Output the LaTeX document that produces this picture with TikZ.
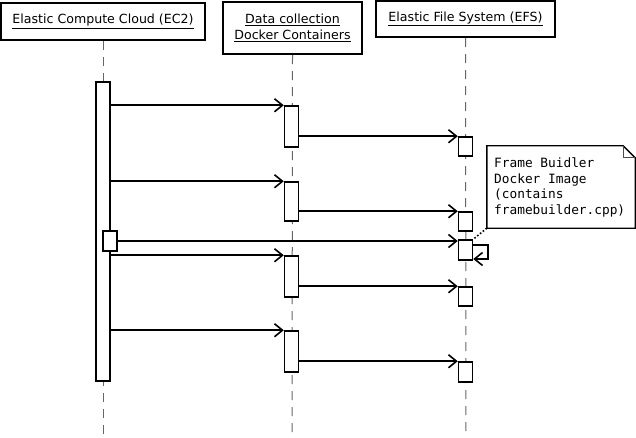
\documentclass[tikz,border=0pt]{standalone}
\usepackage{fontspec}
\setmainfont{DejaVu Sans}
\newfontfamily\notefont{DejaVu Sans Mono}
\usetikzlibrary{arrows.meta}
\begin{document}
\begin{tikzpicture}[x=1pt,y=-1pt,
  head/.style={draw,line width=2.2pt,fill=white,inner sep=0pt,align=center,
    font=\fontsize{12.6}{16}\selectfont},
  act/.style={draw,line width=1.5pt,fill=white,inner sep=0pt,minimum width=14pt},
  life/.style={draw=black!60,line width=1pt,dash pattern=on 9pt off 7pt},
  msg/.style={draw,line width=1.6pt,-{Straight Barb[length=8pt,width=13pt,line width=1.6pt]}},
  notebox/.style={inner sep=0pt,minimum width=148pt,minimum height=82pt},
  notetext/.style={font=\notefont\fontsize{12.8}{15.5}\selectfont,align=left,anchor=north west,inner sep=0pt}]
\useasboundingbox (0,0) rectangle (636,438);

% heads
\node[head,minimum width=204pt,minimum height=37pt] (ec2) at (103,21.5) {\underline{Elastic Compute Cloud (EC2)}};
\node[head,minimum width=139pt,minimum height=52pt] (dc) at (292.5,28) {\underline{Data collection}\\\underline{Docker Containers}};
\node[head,minimum width=179pt,minimum height=36pt] (efs) at (465.5,19) {\underline{Elastic File System (EFS)}};

% lifelines
\coordinate (ec2end) at (103,438);
\coordinate (dcend) at (292,438);
\coordinate (efsend) at (466,438);
\draw[life] (ec2.south) -- (ec2end);
\draw[life] (dc.south) -- (dcend);
\draw[life] (efs.south) -- (efsend);

% activations
\node[act,minimum height=299pt] (a0) at (103,231.5) {};
\node[act,minimum height=41pt] (d1) at (291.5,126.5) {};
\node[act,minimum height=39pt] (d2) at (291.5,201.5) {};
\node[act,minimum height=41pt] (d3) at (291.5,276.5) {};
\node[act,minimum height=41pt] (d4) at (291.5,351.5) {};
\node[act,minimum height=19pt] (e1) at (465.5,146.5) {};
\node[act,minimum height=19pt] (e2) at (465.5,221.5) {};
\node[act,minimum height=20pt] (e3) at (465.5,250) {};
\node[act,minimum height=19pt] (e4) at (465.5,296.5) {};
\node[act,minimum height=20pt] (e5) at (465.5,372) {};
\node[act,minimum height=20pt] (a1) at (110,241) {};

% messages
\draw[msg] (a0.east |- d1.north west) -- (d1.north west);
\draw[msg] (d1.east |- e1.north west) -- (e1.north west);
\draw[msg] (a0.east |- d2.north west) -- (d2.north west);
\draw[msg] (d2.east |- e2.north west) -- (e2.north west);
\draw[msg] (a1.east) -- (a1.east -| e3.west);
\coordinate (loopr) at (488,245);
\coordinate (loopb) at (488,259);
\draw[msg] (e3.east |- loopr) -- (loopr) -- (loopb) -- (loopb -| e3.east);
\draw[msg] (a0.east |- d3.north west) -- (d3.north west);
\draw[msg] (d3.east |- e4.north west) -- (e4.north west);
\draw[msg] (a0.east |- d4.north west) -- (d4.north west);
\draw[msg] (d4.east |- e5.north west) -- (e5.north west);

% note
\node[notebox] (note) at (561,187) {};
\draw[line width=1.4pt,fill=white] (note.north west) -- ([xshift=-12pt]note.north east)
  -- ([yshift=-12pt]note.north east) -- (note.south east) -- (note.south west) -- cycle;
\draw[line width=0.8pt,black!70] ([xshift=-12pt]note.north east) -- ([xshift=-12pt,yshift=-12pt]note.north east)
  -- ([yshift=-12pt]note.north east);
\node[notetext] (nt) at (494,158) {Frame Buidler\\Docker Image\\(contains\\framebuilder.cpp)};
\draw[line width=1.6pt,dotted] (note.south west) -- (e3.north east);
\end{tikzpicture}
\end{document}
